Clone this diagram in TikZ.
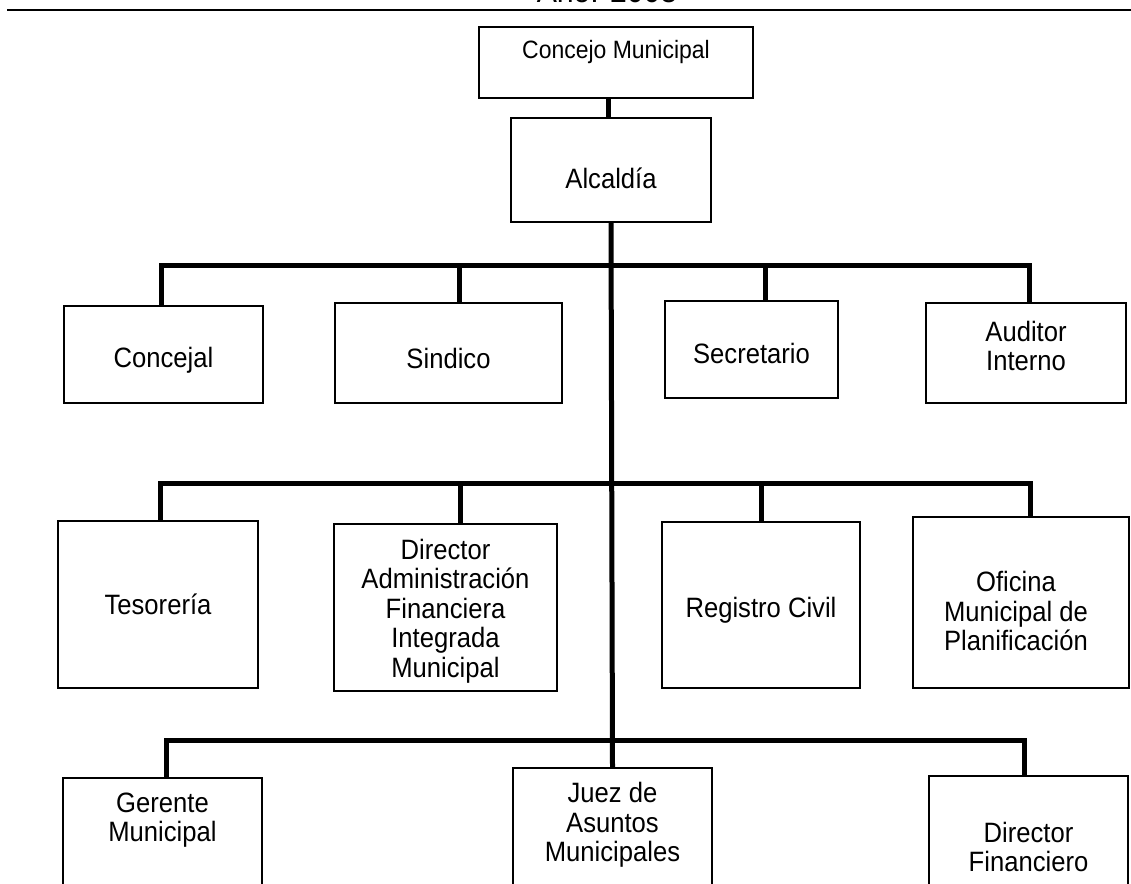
\documentclass[tikz,border=0pt]{standalone}
\usepackage{fontspec}
\setmainfont{Liberation Sans}
\newfontfamily\lblfont[FakeStretch=0.915]{Liberation Sans}
\usetikzlibrary{calc}
\begin{document}
\begin{tikzpicture}[x=1pt,y=-1pt,
  box/.style={draw, line width=1.3pt, inner sep=0pt},
  lbl/.style={font=\lblfont\fontsize{28}{29.5}\selectfont, align=center, inner sep=0pt},
  bar/.style={line width=5pt, line cap=rect},
  conn/.style={line width=5pt}]
\useasboundingbox (0,0) rectangle (1131,883);
% title and rule
\node[font=\lblfont\fontsize{33}{36}\selectfont, anchor=base, inner sep=0pt] (title) at (607,3) {Año: 2008};
\coordinate (ruleL) at (7,10);
\coordinate (ruleR) at (1135,10);
\draw[line width=2.3pt] (ruleL) -- (ruleR);
% boxes
\node[box, minimum width=274, minimum height=71] (cm) at (616,62.5) {};
\node[box, minimum width=200, minimum height=104] (alc) at (611,170) {};
\node[box, minimum width=199, minimum height=97] (conc) at (163.5,354.5) {};
\node[box, minimum width=227, minimum height=100] (sind) at (448.5,353) {};
\node[box, minimum width=173, minimum height=97] (secr) at (751.5,349.5) {};
\node[box, minimum width=200, minimum height=100] (aud) at (1026,353) {};
\node[box, minimum width=200, minimum height=167] (tes) at (158,604.5) {};
\node[box, minimum width=223, minimum height=167] (dir) at (445.5,607.5) {};
\node[box, minimum width=198, minimum height=166] (reg) at (761,605) {};
\node[box, minimum width=216, minimum height=171] (ofi) at (1021,602.5) {};
\node[box, minimum width=199, minimum height=182] (ger) at (162.5,869) {};
\node[box, minimum width=199, minimum height=192] (juez) at (612.5,864) {};
\node[box, minimum width=199, minimum height=184] (dirf) at (1028.5,868) {};
% texts
\node[lbl, font=\lblfont\fontsize{25.1}{28}\selectfont] (cm-t) at (616,52) {Concejo Municipal};
\node[lbl] (alc-t) at (611,178) {Alcaldía};
\node[lbl] (conc-t) at (163.5,360) {Concejal};
\node[lbl] (sind-t) at (448.5,358) {Sindico};
\node[lbl] (secr-t) at (751.5,353) {Secretario};
\node[lbl] (aud-t) at (1026,346) {Auditor\\Interno};
\node[lbl] (tes-t) at (158,604) {Tesorería};
\node[lbl] (dir-t) at (445.5,611) {Director\\Administración\\Financiera\\Integrada\\Municipal};
\node[lbl] (reg-t) at (761,610) {Registro Civil};
\node[lbl] (ofi-t) at (1016,611) {Oficina\\Municipal de\\Planificación};
\node[lbl] (ger-t) at (162.5,820) {Gerente\\Municipal};
\node[lbl] (juez-t) at (612.5,825) {Juez de\\Asuntos\\Municipales};
\node[lbl] (dirf-t) at (1028.5,847) {Director\\Financiero};
% connectors
\draw[conn] (cm.south -| 608,0) -- (alc.north -| 608,0);
\draw[conn] (alc.south) -- (juez.north);
% row 1
\coordinate (b1L) at (161,265);
\coordinate (b1R) at (1029,265);
\draw[bar] (b1L) -- (b1R);
\draw[conn] (conc.north -| b1L) -- (b1L);
\draw[conn] ($(sind.north)+(10.5,0)$) -- ($(sind.north |- b1L)+(10.5,0)$);
\draw[conn] ($(secr.north)+(13.5,0)$) -- ($(secr.north |- b1L)+(13.5,0)$);
\draw[conn] (aud.north -| b1R) -- (b1R);
% row 2
\coordinate (b2L) at (160,483);
\coordinate (b2R) at (1030,483);
\draw[bar] (b2L) -- (b2R);
\draw[conn] (tes.north -| b2L) -- (b2L);
\draw[conn] ($(dir.north)+(14.5,0)$) -- ($(dir.north |- b2L)+(14.5,0)$);
\draw[conn] (reg.north) -- (reg.north |- b2L);
\draw[conn] (ofi.north -| b2R) -- (b2R);
% row 3
\coordinate (b3L) at (166,740);
\coordinate (b3R) at (1024,740);
\draw[bar] (b3L) -- (b3R);
\draw[conn] (ger.north -| b3L) -- (b3L);
\draw[conn] (dirf.north -| b3R) -- (b3R);
\end{tikzpicture}
\end{document}
